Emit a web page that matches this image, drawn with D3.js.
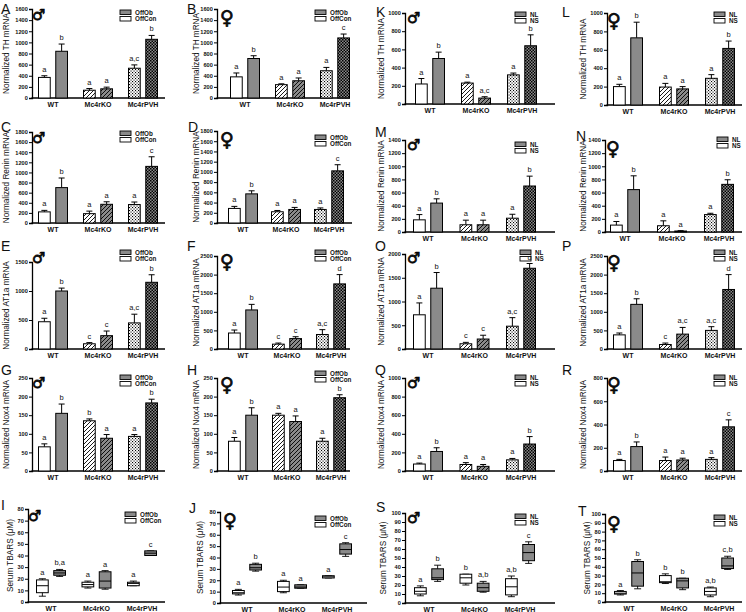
<!DOCTYPE html>
<html><head><meta charset="utf-8">
<script src="https://cdn.jsdelivr.net/npm/d3@7"></script>
<style>body{margin:0;background:#fff}svg{display:block}text{font-family:"Liberation Sans",Arial,sans-serif;fill:#111}</style>
</head><body><svg id="c" width="746" height="612"></svg>
<script>
const groups = ["WT","Mc4rKO","Mc4rPVH"];
// ---- TH mRNA ----
const A_con=[370,140,535], A_conErr=[30,30,60], A_ob=[840,165,1055], A_obErr=[130,30,70], A_sig=["a","b","a","a","a,c","b"];
const B_con=[380,240,490], B_conErr=[70,15,60], B_ob=[710,310,1080], B_obErr=[50,50,70], B_sig=["a","b","a","a","a","c"];
const K_con=[220,230,320], K_conErr=[60,10,20], K_ob=[500,65,640], K_obErr=[70,15,120], K_sig=["a","b","a","a,c","a","b"];
const L_con=[200,195,290], L_conErr=[25,40,40], L_ob=[730,175,615], L_obErr=[170,25,80], L_sig=["a","b","a","a","a","b"];
// ---- Renin mRNA ----
const C_con=[220,185,365], C_conErr=[30,50,50], C_ob=[700,370,1120], C_obErr=[190,50,190], C_sig=["a","b","a","a","a","c"];
const D_con=[285,220,265], D_conErr=[40,25,30], D_ob=[570,265,1020], D_obErr=[60,40,120], D_sig=["a","b","a","a","a","c"];
const M_con=[185,110,210], M_conErr=[80,70,60], M_ob=[440,110,700], M_obErr=[65,70,150], M_sig=["a","b","a","a","a","b"];
const N_con=[105,95,265], N_conErr=[55,75,20], N_ob=[645,15,725], N_obErr=[210,5,70], N_sig=["a","b","a","a","a","b"];
// ---- AT1a mRNA ----
const E_con=[470,90,450], E_conErr=[60,20,150], E_ob=[1000,230,1150], E_obErr=[50,80,130], E_sig=["a","b","c","c","a,c","b"];
const F_con=[430,130,390], F_conErr=[80,30,130], F_ob=[1050,280,1750], F_obErr=[150,50,250], F_sig=["a","b","c","c","a,c","d"];
const O_con=[720,110,480], O_conErr=[250,30,180], O_ob=[1280,210,1700], O_obErr=[330,80,100], O_sig=["a","b","c","c","a,c","d"];
const P_con=[380,120,500], P_conErr=[50,40,100], P_ob=[1200,400,1600], P_obErr=[150,180,400], P_sig=["a","b","c","a,c","a,c","d"];
// ---- Nox4 mRNA ----
const G_con=[65,135,93], G_conErr=[8,5,5], G_ob=[155,88,183], G_obErr=[25,10,10], G_sig=["a","b","b","a","a","b"];
const H_con=[80,150,80], H_conErr=[10,5,8], H_ob=[150,133,197], H_obErr=[20,15,8], H_sig=["a","b","a","a","a","b"];
const Q_con=[75,70,120], Q_conErr=[10,20,15], Q_ob=[210,50,290], Q_obErr=[40,20,80], Q_sig=["a","b","a","a","a","b"];
const R_con=[90,90,100], R_conErr=[10,30,15], R_ob=[210,95,380], R_obErr=[40,15,60], R_sig=["a","b","a","a","a","c"];
// ---- Serum TBARS box plots [min,q1,median,q3,max] ----
const I_con=[[5,8,14,19,20],[12,13,15,17,18],[14,14,16,17,18]], I_ob=[[22,23,25,27,28],[11,12,18,26,27],[40,40,42,44,44]], I_sig=["a","b,a","a","a","a","c"];
const J_con=[[7,8,9,11,12],[9,10,14,19,20],[22,22,23,24,24]], J_ob=[[28,29,31,34,35],[13,13,14,16,16],[41,43,47,52,53]], J_sig=["a","b","a","a","a","c"];
const S_con=[[8,10,13,17,19],[20,22,28,32,32],[7,9,18,27,30]], S_ob=[[24,26,28,38,42],[12,13,17,22,24],[44,47,56,65,68]], S_sig=["a","b","b","a,b","a,b","c"];
const T_con=[[8,9,10,12,13],[21,22,23,30,32],[6,8,12,16,17]], T_ob=[[15,18,33,46,48],[14,16,24,27,27],[37,38,41,50,52]], T_sig=["a","b","b","b","a,b","c,b"];

const legOff=["OffOb","OffCon"], legNL=["NL","NS"];

// layout (positions only)
const panels=[
 {id:"A",kind:"bar",con:A_con,conE:A_conErr,ob:A_ob,obE:A_obErr,sig:A_sig,ylab:"Normalized TH mRNA",sex:"m",leg:legOff,ymax:1600,step:200,
  x0:32,x1:165,c0:53,sp:45,yt:9,yb:98,let:[1,14],legXY:[120,10],sexXY:[32,20],labX:6},
 {id:"B",kind:"bar",con:B_con,conE:B_conErr,ob:B_ob,obE:B_obErr,sig:B_sig,ylab:"Normalized TH mRNA",sex:"f",leg:legOff,ymax:1600,step:200,
  x0:217,x1:350,c0:245,sp:45,yt:9,yb:98,let:[187,14],legXY:[315,10],sexXY:[220,24],labX:196},
 {id:"K",kind:"bar",con:K_con,conE:K_conErr,ob:K_ob,obE:K_obErr,sig:K_sig,ylab:"Normalized TH mRNA",sex:"m",leg:legNL,ymax:1000,step:200,
  x0:405,x1:555,c0:430,sp:46,yt:13,yb:104,let:[376,17],legXY:[515,12],sexXY:[407,23],labX:381},
 {id:"L",kind:"bar",con:L_con,conE:L_conErr,ob:L_ob,obE:L_obErr,sig:L_sig,ylab:"Normalized TH mRNA",sex:"f",leg:legNL,ymax:1000,step:200,
  x0:607,x1:742,c0:628,sp:46,yt:13,yb:105,let:[562,17],legXY:[714,12],sexXY:[607,27],labX:583},

 {id:"C",kind:"bar",con:C_con,conE:C_conErr,ob:C_ob,obE:C_obErr,sig:C_sig,ylab:"Normalized Renin mRNA",sex:"m",leg:legOff,ymax:1800,step:200,
  x0:32,x1:165,c0:53,sp:45,yt:132,yb:223,let:[1,132],legXY:[120,131],sexXY:[32,143],labX:6},
 {id:"D",kind:"bar",con:D_con,conE:D_conErr,ob:D_ob,obE:D_obErr,sig:D_sig,ylab:"Normalized Renin mRNA",sex:"f",leg:legOff,ymax:1800,step:200,
  x0:217,x1:352,c0:243,sp:43,yt:131,yb:223,let:[188,132],legXY:[315,135],sexXY:[220,146],labX:196},
 {id:"M",kind:"bar",con:M_con,conE:M_conErr,ob:M_ob,obE:M_obErr,sig:M_sig,ylab:"Normalized Renin mRNA",sex:"m",leg:legNL,ymax:1400,step:200,
  x0:405,x1:555,c0:428,sp:46.5,yt:140,yb:232,let:[375,137],legXY:[515,142],sexXY:[407,150],labX:381},
 {id:"N",kind:"bar",con:N_con,conE:N_conErr,ob:N_ob,obE:N_obErr,sig:N_sig,ylab:"Normalized Renin mRNA",sex:"f",leg:legNL,ymax:1400,step:200,
  x0:605,x1:742,c0:625,sp:47,yt:140,yb:232,let:[576,141],legXY:[717,137],sexXY:[606,155],labX:583},

 {id:"E",kind:"bar",con:E_con,conE:E_conErr,ob:E_ob,obE:E_obErr,sig:E_sig,ylab:"Normalized AT1a mRNA",sex:"m",leg:legOff,ymax:1500,step:500,
  x0:32,x1:165,c0:53,sp:45,yt:262,yb:349,let:[1,251],legXY:[120,250],sexXY:[32,263],labX:6},
 {id:"F",kind:"bar",con:F_con,conE:F_conErr,ob:F_ob,obE:F_obErr,sig:F_sig,ylab:"Normalized AT1a mRNA",sex:"f",leg:legOff,ymax:2500,step:500,
  x0:217,x1:350,c0:243,sp:44,yt:256,yb:349,let:[187,251],legXY:[315,250],sexXY:[220,268],labX:196},
 {id:"O",kind:"bar",con:O_con,conE:O_conErr,ob:O_ob,obE:O_obErr,sig:O_sig,ylab:"Normalized AT1a mRNA",sex:"m",leg:legNL,ymax:2000,step:500,
  x0:405,x1:555,c0:428,sp:46.5,yt:254,yb:349,let:[375,251],legXY:[520,250],sexXY:[407,263],labX:381},
 {id:"P",kind:"bar",con:P_con,conE:P_conErr,ob:P_ob,obE:P_obErr,sig:P_sig,ylab:"Normalized AT1a mRNA",sex:"f",leg:legNL,ymax:2500,step:500,
  x0:607,x1:742,c0:628,sp:46,yt:256,yb:349,let:[562,251],legXY:[714,250],sexXY:[607,269],labX:583},

 {id:"G",kind:"bar",con:G_con,conE:G_conErr,ob:G_ob,obE:G_obErr,sig:G_sig,ylab:"Normalized Nox4 mRNA",sex:"m",leg:legOff,ymax:250,step:50,
  x0:32,x1:165,c0:53,sp:45,yt:378,yb:471,let:[1,375],legXY:[120,375],sexXY:[32,388],labX:6},
 {id:"H",kind:"bar",con:H_con,conE:H_conErr,ob:H_ob,obE:H_obErr,sig:H_sig,ylab:"Normalized Nox4 mRNA",sex:"f",leg:legOff,ymax:250,step:50,
  x0:217,x1:350,c0:243,sp:44,yt:378,yb:471,let:[187,375],legXY:[315,371],sexXY:[220,391],labX:196},
 {id:"Q",kind:"bar",con:Q_con,conE:Q_conErr,ob:Q_ob,obE:Q_obErr,sig:Q_sig,ylab:"Normalized Nox4 mRNA",sex:"m",leg:legNL,ymax:1000,step:200,
  x0:405,x1:555,c0:428,sp:46.5,yt:378,yb:471,let:[375,375],legXY:[515,375],sexXY:[407,388],labX:381},
 {id:"R",kind:"bar",con:R_con,conE:R_conErr,ob:R_ob,obE:R_obErr,sig:R_sig,ylab:"Normalized Nox4 mRNA",sex:"f",leg:legNL,ymax:800,step:200,
  x0:607,x1:742,c0:628,sp:46,yt:378,yb:471,let:[562,375],legXY:[714,375],sexXY:[607,391],labX:583},

 {id:"I",kind:"box",con:I_con,ob:I_ob,sig:I_sig,ylab:"Serum TBARS (\u03bcM)",sex:"m",leg:legOff,ymax:80,step:10,
  x0:28,x1:165,c0:51,sp:45.5,yt:509,yb:602,let:[1,510],legXY:[125,512],sexXY:[28,521],labX:10},
 {id:"J",kind:"box",con:J_con,ob:J_ob,sig:J_sig,ylab:"Serum TBARS (\u03bcM)",sex:"f",leg:legOff,ymax:80,step:10,
  x0:220,x1:367,c0:247,sp:45,yt:512,yb:603,let:[189,513],legXY:[315,516],sexXY:[223,527],labX:200},
 {id:"S",kind:"box",con:S_con,ob:S_ob,sig:S_sig,ylab:"Serum TBARS (\u03bcM)",sex:"m",leg:legNL,ymax:100,step:10,
  x0:405,x1:555,c0:429,sp:45.5,yt:513,yb:603,let:[376,512],legXY:[515,514],sexXY:[407,523],labX:383},
 {id:"T",kind:"box",con:T_con,ob:T_ob,sig:T_sig,ylab:"Serum TBARS (\u03bcM)",sex:"f",leg:legNL,ymax:100,step:10,
  x0:605,x1:742,c0:629,sp:45,yt:514,yb:602,let:[578,516],legXY:[714,515],sexXY:[607,530],labX:587}
];

const svg=d3.select("#c");
const defs=svg.append("defs");
const GRAY="#8a8a8a";
function hatch(id,bg){
  const p=defs.append("pattern").attr("id",id).attr("patternUnits","userSpaceOnUse").attr("width",4).attr("height",4);
  p.append("rect").attr("width",4).attr("height",4).attr("fill",bg);
  p.append("path").attr("d","M-1,1 L1,-1 M0,4 L4,0 M3,5 L5,3").attr("stroke","#000").attr("stroke-width",0.9);
}
function check(id,bg,s){
  const p=defs.append("pattern").attr("id",id).attr("patternUnits","userSpaceOnUse").attr("width",3).attr("height",3);
  p.append("rect").attr("width",3).attr("height",3).attr("fill",bg);
  p.append("rect").attr("x",0).attr("y",0).attr("width",s).attr("height",s).attr("fill","#000");
  p.append("rect").attr("x",1.5).attr("y",1.5).attr("width",s).attr("height",s).attr("fill","#000");
}
hatch("hw","#fff"); hatch("hg",GRAY);
check("cw","#fff",1.1); check("cg",GRAY,1.5);
const fills={con:["#fff","url(#hw)","url(#cw)"],ob:[GRAY,"url(#hg)","url(#cg)"]};

panels.forEach(P=>{
  const g=svg.append("g");
  const y=d3.scaleLinear().domain([0,P.ymax]).range([P.yb,P.yt]);
  const x=d3.scaleBand().domain(groups).range([P.c0-P.sp/2,P.c0+P.sp*2.5]).paddingInner(0).paddingOuter(0);
  const sub=d3.scaleBand().domain(["con","ob"]).range([-14.5,14.5]).paddingInner(0.32).paddingOuter(0);
  const bw=sub.bandwidth();
  // y axis
  const ay=g.append("g").attr("transform",`translate(${P.x0},0)`)
    .call(d3.axisLeft(y).tickValues(d3.range(0,P.ymax+0.001,P.step)).tickSize(3).tickPadding(1.2).tickFormat(d3.format("d")));
  ay.select(".domain").attr("stroke-width",1.3);
  ay.selectAll(".tick line").attr("stroke-width",1);
  ay.selectAll("text").attr("font-size",5.6).attr("font-weight","bold").attr("fill","#111");
  // x axis line
  g.append("line").attr("x1",P.x0-0.5).attr("x2",P.x1).attr("y1",P.yb).attr("y2",P.yb).attr("stroke","#000").attr("stroke-width",1.6);
  // category labels
  g.selectAll(".cat").data(groups).join("text").attr("x",d=>x(d)+x.bandwidth()/2).attr("y",P.yb+9)
    .attr("text-anchor","middle").attr("font-size",7).attr("font-weight","bold").text(d=>d);
  // y label
  g.append("text").attr("transform",`translate(${P.labX},${(P.yt+P.yb)/2}) rotate(-90)`).attr("dy","0.35em")
    .attr("text-anchor","middle").attr("font-size",8.2).text(P.ylab);
  // panel letter
  g.append("text").attr("x",P.let[0]).attr("y",P.let[1]).attr("font-size",14).attr("fill","#000").text(P.id);
  // sex symbol (text glyph, text presentation)
  g.append("text").attr("x",P.sexXY[0]).attr("y",P.sexXY[1]).style("font-family","'DejaVu Sans'").attr("font-weight","normal")
    .attr("font-size",P.sex==="m"?15:19).attr("fill","#000").attr("stroke","#000").attr("stroke-width",0.7)
    .text(P.sex==="m"?"\u2642\uFE0E":"\u2640\uFE0E");
  // legend
  const [lx,ly]=P.legXY;
  [[GRAY,P.leg[0]],["#fff",P.leg[1]]].forEach((d,i)=>{
    g.append("rect").attr("x",lx).attr("y",ly+i*6.5).attr("width",11).attr("height",4.5).attr("fill",d[0]).attr("stroke","#000").attr("stroke-width",0.9);
    g.append("text").attr("x",lx+15).attr("y",ly+i*6.5+4.8).attr("font-size",6.3).attr("font-weight","bold").text(d[1]);
  });
  groups.forEach((grp,gi)=>{
    const cx=x(grp)+x.bandwidth()/2;
    ["con","ob"].forEach((k,ki)=>{
      const bx=cx+sub(k);
      const lbl=P.sig[gi*2+ki];
      let topY;
      if(P.kind==="bar"){
        const v=P[k][gi], e=(k==="con"?P.conE:P.obE)[gi];
        const ey=y(v+e);
        g.append("line").attr("x1",bx+bw/2).attr("x2",bx+bw/2).attr("y1",y(v)).attr("y2",ey).attr("stroke","#000").attr("stroke-width",1);
        g.append("line").attr("x1",bx+bw/2-3).attr("x2",bx+bw/2+3).attr("y1",ey).attr("y2",ey).attr("stroke","#000").attr("stroke-width",1);
        g.append("rect").attr("x",bx).attr("y",y(v)).attr("width",bw).attr("height",P.yb-y(v))
          .attr("fill",fills[k][gi]).attr("stroke","#000").attr("stroke-width",1);
        topY=ey;
      } else {
        const b=P[k][gi];
        const f=k==="con"?"#fff":GRAY;
        const m=bx+bw/2;
        g.append("line").attr("x1",m).attr("x2",m).attr("y1",y(b[0])).attr("y2",y(b[4])).attr("stroke","#000").attr("stroke-width",0.9);
        [b[0],b[4]].forEach(v=>g.append("line").attr("x1",m-3.5).attr("x2",m+3.5).attr("y1",y(v)).attr("y2",y(v)).attr("stroke","#000").attr("stroke-width",0.9));
        g.append("rect").attr("x",bx).attr("y",y(b[3])).attr("width",bw).attr("height",y(b[1])-y(b[3])).attr("fill",f).attr("stroke","#000").attr("stroke-width",1);
        g.append("line").attr("x1",bx).attr("x2",bx+bw).attr("y1",y(b[2])).attr("y2",y(b[2])).attr("stroke","#000").attr("stroke-width",1);
        topY=y(b[4]);
      }
      g.append("text").attr("x",bx+bw/2).attr("y",topY-4).attr("text-anchor","middle").attr("font-size",7.5).attr("fill","#000").text(lbl);
    });
  });
});
</script></body></html>
